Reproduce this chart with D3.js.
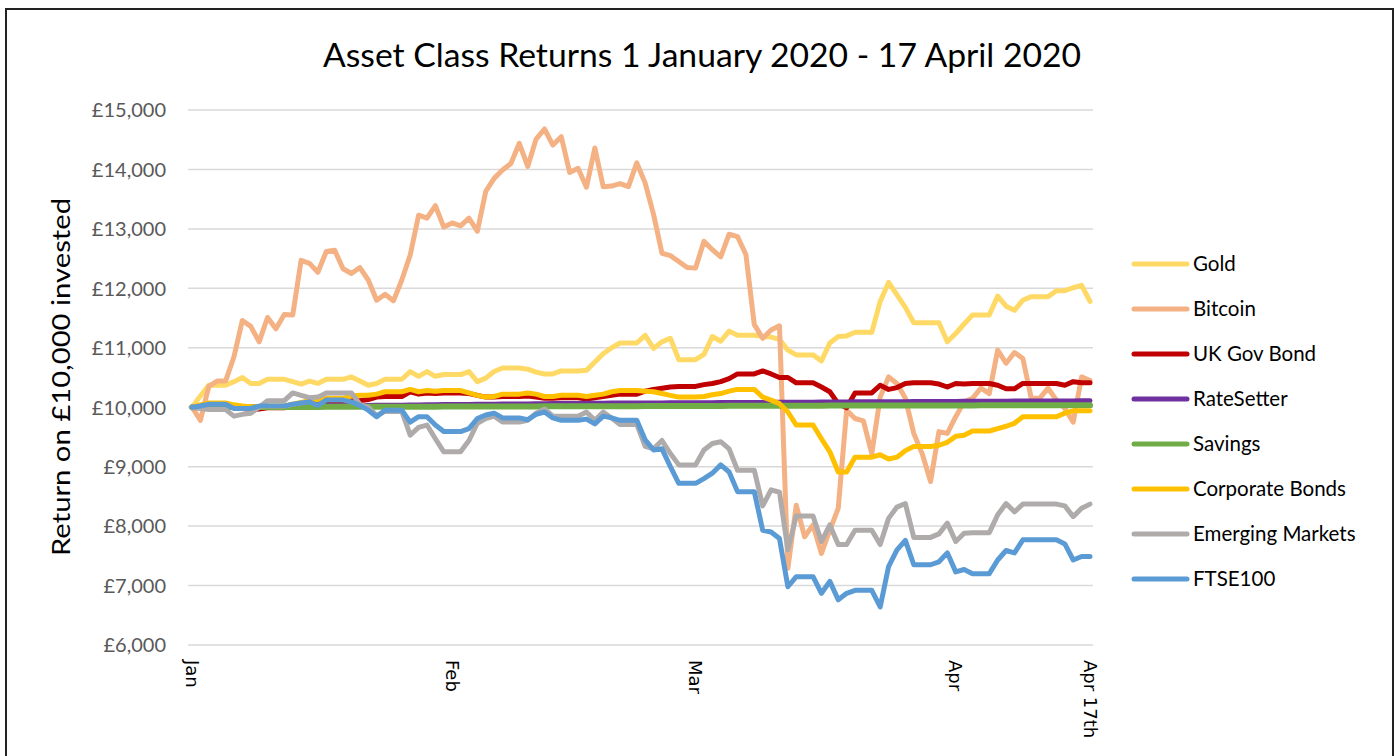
<!DOCTYPE html>
<html><head><meta charset="utf-8">
<script src="https://cdn.jsdelivr.net/npm/d3@7"></script>
<style>html,body{margin:0;padding:0;background:#fff;}svg{display:block;}</style>
</head><body>
<svg id="chart" width="1400" height="756"></svg>
<script>
// ---- Data (one value per calendar day, 1 Jan 2020 .. 17 Apr 2020) ----
const seriesNames = ["Gold","Bitcoin","UK Gov Bond","RateSetter","Savings","Corporate Bonds","Emerging Markets","FTSE100"];
const gold = [10000,10190,10370,10370,10370,10430,10500,10400,10400,10470,
10470,10470,10430,10390,10440,10400,10470,10470,10470,10510,
10440,10370,10400,10470,10470,10470,10600,10520,10600,10520,
10550,10550,10550,10600,10430,10490,10600,10660,10660,10660,
10640,10590,10560,10560,10610,10610,10610,10620,10760,10900,
11000,11080,11080,11080,11210,10990,11100,11160,10800,10800,
10800,10890,11190,11110,11280,11210,11210,11210,11190,11180,
11140,10960,10880,10880,10880,10780,11080,11190,11200,11260,
11260,11260,11780,12100,11890,11680,11420,11420,11420,11420,
11100,11240,11400,11550,11550,11550,11870,11700,11630,11800,
11860,11860,11860,11960,11960,12010,12050,11780];
const bitcoin = [10000,9780,10350,10440,10440,10850,11460,11360,11100,11510,
11320,11560,11550,12470,12420,12270,12620,12640,12330,12250,
12350,12140,11800,11900,11790,12140,12560,13230,13180,13390,
13030,13100,13050,13180,12960,13630,13850,13990,14100,14440,
14050,14510,14680,14410,14550,13950,14020,13700,14360,13710,
13720,13760,13710,14110,13770,13240,12590,12550,12450,12350,
12340,12790,12650,12530,12910,12870,12570,11390,11160,11300,
11370,7290,8350,7820,8020,7540,7930,8300,9950,9810,
9770,9220,10170,10510,10400,10150,9560,9220,8750,9590,
9560,9840,10090,10150,10320,10230,10960,10740,10920,10820,
10150,10150,10320,10120,9980,9750,10510,10450];
const ukGovBond = [10000,10020,10030,10030,10030,10000,9980,9960,9970,9990,
9990,9990,10020,10040,10060,10080,10100,10100,10100,10110,
10110,10130,10170,10180,10180,10180,10260,10220,10240,10230,
10240,10240,10240,10230,10200,10170,10170,10180,10180,10180,
10190,10170,10150,10150,10160,10160,10160,10140,10160,10180,
10200,10220,10220,10220,10270,10300,10320,10340,10350,10350,
10350,10380,10400,10430,10480,10560,10560,10560,10610,10560,
10500,10500,10410,10410,10410,10340,10260,10060,9990,10240,
10240,10240,10370,10300,10330,10400,10410,10410,10410,10390,
10340,10400,10390,10400,10400,10400,10370,10310,10310,10400,
10400,10400,10400,10400,10370,10430,10410,10410];
const rateSetter = [10000,10002,10004,10004,10004,10006,10008,10010,10012,10014,
10014,10014,10016,10018,10020,10022,10024,10024,10024,10026,
10028,10030,10032,10034,10034,10034,10036,10038,10040,10042,
10044,10044,10044,10046,10048,10050,10052,10054,10054,10054,
10056,10058,10060,10062,10064,10064,10064,10066,10067,10068,
10069,10070,10070,10070,10071,10072,10073,10074,10075,10075,
10075,10076,10077,10078,10079,10080,10080,10080,10081,10082,
10083,10084,10085,10085,10085,10086,10087,10088,10089,10090,
10090,10090,10091,10092,10093,10094,10095,10095,10095,10096,
10097,10098,10099,10100,10100,10100,10101,10102,10103,10104,
10104,10104,10104,10104,10105,10106,10107,10108];
const savings = [10000,10000,10001,10001,10001,10002,10002,10003,10003,10003,
10003,10003,10004,10004,10005,10005,10006,10006,10006,10006,
10007,10007,10008,10008,10008,10008,10009,10009,10010,10010,
10011,10011,10011,10011,10012,10012,10013,10013,10013,10013,
10014,10014,10015,10015,10016,10016,10016,10016,10017,10017,
10018,10018,10018,10018,10019,10019,10020,10020,10021,10021,
10021,10021,10022,10022,10023,10023,10023,10023,10024,10024,
10025,10025,10025,10025,10026,10026,10027,10027,10027,10027,
10028,10028,10028,10028,10029,10029,10030,10030,10030,10030,
10031,10031,10031,10031,10032,10032,10032,10032,10033,10033,
10033,10033,10033,10033,10034,10034,10034,10035];
const corporateBonds = [10000,10040,10070,10070,10070,10040,10020,10010,10010,10020,
10020,10020,10050,10080,10110,10130,10150,10150,10150,10190,
10200,10200,10220,10260,10260,10260,10300,10260,10280,10270,
10280,10280,10280,10240,10200,10170,10180,10220,10220,10220,
10240,10220,10180,10180,10200,10200,10200,10180,10200,10220,
10260,10280,10280,10280,10270,10260,10230,10200,10170,10170,
10170,10180,10210,10230,10270,10300,10300,10300,10170,10120,
10060,9920,9700,9700,9700,9470,9250,8910,8910,9160,
9160,9160,9200,9130,9160,9270,9340,9340,9340,9360,
9410,9510,9530,9600,9600,9600,9640,9680,9730,9840,
9840,9840,9840,9840,9900,9940,9940,9940];
const emergingMarkets = [10000,9980,9960,9960,9960,9850,9880,9900,10000,10110,
10110,10110,10240,10200,10160,10170,10240,10240,10240,10240,
10050,10000,9860,9930,9930,9930,9530,9660,9700,9470,
9250,9250,9250,9440,9730,9810,9850,9750,9750,9750,
9780,9900,9970,9850,9850,9850,9850,9920,9780,9920,
9820,9710,9710,9710,9340,9300,9440,9220,9030,9030,
9030,9280,9390,9420,9300,8940,8940,8940,8340,8610,
8570,7600,8170,8170,8170,7740,8020,7690,7690,7930,
7930,7930,7690,8130,8320,8380,7810,7810,7810,7870,
8050,7740,7880,7890,7890,7890,8190,8380,8240,8370,
8370,8370,8370,8370,8340,8160,8300,8370];
const ftse100 = [10000,10020,10050,10050,10050,9980,9980,9980,10020,10020,
10020,10020,10050,10070,10090,10030,10120,10120,10120,10090,
10030,9950,9840,9950,9950,9950,9750,9840,9840,9700,
9590,9590,9590,9640,9810,9870,9900,9820,9820,9820,
9790,9880,9920,9820,9780,9780,9780,9800,9720,9850,
9820,9780,9780,9780,9450,9280,9300,9000,8720,8720,
8720,8800,8890,9030,8910,8580,8580,8580,7930,7900,
7790,6980,7150,7150,7150,6870,7070,6760,6870,6920,
6920,6920,6640,7320,7600,7760,7350,7350,7350,7400,
7550,7230,7270,7200,7200,7200,7430,7590,7550,7770,
7770,7770,7770,7770,7700,7430,7490,7490];
const yTicks = [6000,7000,8000,9000,10000,11000,12000,13000,14000,15000];
const xTickLabels = ["Jan","Feb","Mar","Apr","Apr 17th"];
const xTickDays = [0,31,60,91,107];
const titleText = "Asset Class Returns 1 January 2020 - 17 April 2020";
const yTitleText = "Return on £10,000 invested";

const seriesValues = [gold,bitcoin,ukGovBond,rateSetter,savings,corporateBonds,emergingMarkets,ftse100];
const colors = ["#FFD966","#F4B183","#C00000","#7030A0","#70AD47","#FFC000","#AFABAB","#5B9BD5"];
const widths = [5,5,5,5,6,5,5,5];

const svg = d3.select("#chart");
const x = d3.scaleLinear().domain([0,107]).range([192,1090]);
const y = d3.scaleLinear().domain([6000,15000]).range([645,110]);

// outer frame
svg.append("rect").attr("x",6).attr("y",9).attr("width",1387).attr("height",770)
  .attr("fill","none").attr("stroke","#222").attr("stroke-width",2);

// title
svg.append("text").attr("x",702).attr("y",67).attr("text-anchor","middle")
  .attr("font-family","Lato, 'Open Sans', sans-serif").attr("font-size",33).attr("fill","#000")
  .attr("textLength",758).attr("lengthAdjust","spacingAndGlyphs").text(titleText);

// gridlines + y axis
const yAxis = d3.axisLeft(y).tickValues(yTicks).tickSize(0).tickPadding(0)
  .tickFormat(d => "£" + d3.format(",")(d));
const gy = svg.append("g").attr("transform","translate(166,0)").call(yAxis);
gy.select(".domain").remove();
gy.selectAll("text").attr("font-family","Lato, sans-serif").attr("font-size",20).attr("fill","#595959").attr("dy","0.34em");

svg.append("g").selectAll("line").data(yTicks).join("line")
  .attr("x1",188).attr("x2",1093).attr("y1",d=>y(d)).attr("y2",d=>y(d))
  .attr("stroke","#D9D9D9").attr("stroke-width",1.5);

// y title
svg.append("text").attr("transform","translate(70,377) rotate(-90)").attr("text-anchor","middle")
  .attr("font-family","Lato, sans-serif").attr("font-size",25).attr("fill","#000")
  .attr("textLength",358).attr("lengthAdjust","spacingAndGlyphs").text(yTitleText);

// x labels (rotated)
svg.append("g").selectAll("text").data(xTickDays).join("text")
  .attr("transform",d=>`translate(${x(d)},660) rotate(90)`)
  .attr("dy","0.35em").attr("text-anchor","start")
  .attr("font-family","'DejaVu Sans', sans-serif").attr("font-size",18).attr("fill","#000")
  .text((d,i)=>xTickLabels[i]);

// lines
const line = d3.line().x((d,i)=>x(i)).y(d=>y(d));
svg.append("g").selectAll("path").data(seriesValues).join("path")
  .attr("d",d=>line(d)).attr("fill","none")
  .attr("stroke",(d,i)=>colors[i]).attr("stroke-width",(d,i)=>widths[i])
  .attr("stroke-linejoin","round").attr("stroke-linecap","round");

// legend
const lg = svg.append("g").selectAll("g").data(seriesNames).join("g")
  .attr("transform",(d,i)=>`translate(0,${264+i*45})`);
lg.append("line").attr("x1",1134).attr("x2",1187).attr("y1",0).attr("y2",0)
  .attr("stroke",(d,i)=>colors[i]).attr("stroke-width",5).attr("stroke-linecap","round");
lg.append("text").attr("x",1193).attr("y",0).attr("dy","0.35em")
  .attr("font-family","Lato, sans-serif").attr("font-size",20.5).attr("fill","#000").text(d=>d);
</script>
</body></html>
